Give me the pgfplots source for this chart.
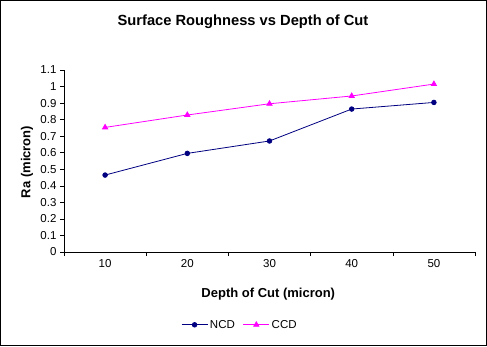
\documentclass[border=0pt]{standalone}
\usepackage{pgfplots}
\pgfplotsset{compat=1.18}
\usepackage{fontspec}
\setmainfont{Liberation Sans}
\definecolor{ncd}{RGB}{0,0,128}
\definecolor{ccd}{RGB}{255,0,255}
\begin{document}
\begin{tikzpicture}[x=1pt,y=1pt]
\useasboundingbox (0,0) rectangle (487,346);
\draw[line width=1.2pt] (0.6,0.6) rectangle (486.4,345.4);
\node[font=\bfseries\fontsize{14.7}{16}\selectfont] at (243,324) {Surface Roughness vs Depth of Cut};
\begin{axis}[
  at={(64pt,94pt)}, anchor=south west,
  scale only axis, width=411pt, height=182pt,
  xmin=-0.5, xmax=4.5, ymin=0, ymax=1.1,
  axis x line*=bottom, axis y line*=left,
  axis line style={line width=0.6pt},
  xtick={0,1,2,3,4}, xticklabels={10,20,30,40,50},
  major x tick style={draw=none},
  minor xtick={-0.5,0.5,1.5,2.5,3.5,4.5},
  ytick={0,0.1,...,1.1},
  yticklabels={0,0.1,0.2,0.3,0.4,0.5,0.6,0.7,0.8,0.9,1,1.1},
  tick align=outside,
  major tick length=4pt, minor tick length=4pt,
  tick style={black, line width=0.6pt},
  ticklabel style={font=\fontsize{11.5}{13}\selectfont},
  /pgf/number format/assume math mode=true,
  xlabel={Depth of Cut (micron)},
  ylabel={Ra (micron)},
  label style={font=\bfseries\fontsize{13}{15}\selectfont},
  xlabel style={at={(axis description cs:0.497,-0.232)}, anchor=center},
  ylabel style={at={(axis description cs:-0.090,0.495)}, anchor=center, rotate=0},
  legend style={at={(0.428,-0.40)}, anchor=center, draw=none, fill=none,
    legend columns=2, font=\fontsize{11.5}{13}\selectfont,
    /tikz/every even column/.append style={column sep=6pt}},
  legend image code/.code={\draw[mark repeat=2,mark phase=2] plot coordinates {(0pt,0pt) (13pt,0pt) (26pt,0pt)};},
  clip=false,
]
\addplot[ncd, line width=0.8pt, mark=*, mark size=2.3pt, mark options={fill=ncd}]
  coordinates {(0,0.465) (1,0.596) (2,0.671) (3,0.864) (4,0.904)};
\addlegendentry{NCD}
\addplot[ccd, line width=0.8pt, mark=triangle*, mark size=3pt, mark options={fill=ccd}]
  coordinates {(0,0.753) (1,0.828) (2,0.896) (3,0.943) (4,1.015)};
\addlegendentry{CCD}
\end{axis}
\end{tikzpicture}
\end{document}
